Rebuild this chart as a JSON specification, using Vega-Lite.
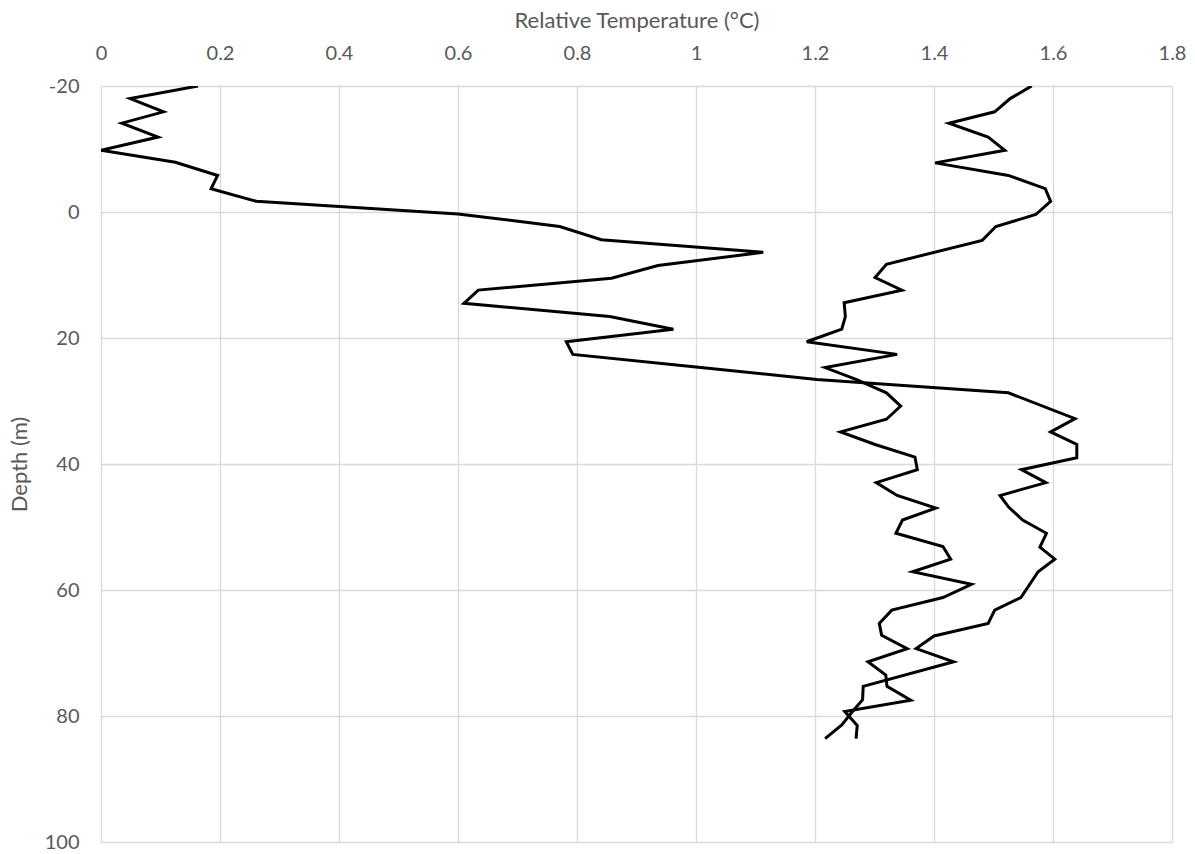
{
  "$schema": "https://vega.github.io/schema/vega-lite/v6.json",
  "width": 1071,
  "height": 756,
  "autosize": {"type": "none"},
  "padding": {"left": 101, "top": 86, "right": 23, "bottom": 12},
  "background": "white",
  "config": {
    "view": {"stroke": null},
    "font": "Lato",
    "axis": {
      "labelFont": "Lato",
      "titleFont": "Lato",
      "labelColor": "#595959",
      "titleColor": "#595959",
      "labelFontSize": 20,
      "titleFontSize": 22,
      "titleFontWeight": "normal",
      "gridColor": "#d9d9d9",
      "gridWidth": 1.3,
      "domain": false,
      "ticks": false,
      "tickSize": 0
    }
  },
  "data": {
    "values": [
      {"series": "A", "depth": -20, "temp": 0.163},
      {"series": "A", "depth": -18, "temp": 0.049},
      {"series": "A", "depth": -15.9, "temp": 0.105},
      {"series": "A", "depth": -14.1, "temp": 0.035},
      {"series": "A", "depth": -11.9, "temp": 0.096},
      {"series": "A", "depth": -9.8, "temp": 0.0},
      {"series": "A", "depth": -7.9, "temp": 0.125},
      {"series": "A", "depth": -5.8, "temp": 0.196},
      {"series": "A", "depth": -3.7, "temp": 0.185},
      {"series": "A", "depth": -1.7, "temp": 0.261},
      {"series": "A", "depth": 0.3, "temp": 0.6},
      {"series": "A", "depth": 2.3, "temp": 0.771},
      {"series": "A", "depth": 4.4, "temp": 0.841},
      {"series": "A", "depth": 6.4, "temp": 1.113},
      {"series": "A", "depth": 8.5, "temp": 0.936},
      {"series": "A", "depth": 10.5, "temp": 0.858},
      {"series": "A", "depth": 12.4, "temp": 0.634},
      {"series": "A", "depth": 14.5, "temp": 0.61},
      {"series": "A", "depth": 16.6, "temp": 0.855},
      {"series": "A", "depth": 18.6, "temp": 0.962},
      {"series": "A", "depth": 20.6, "temp": 0.782},
      {"series": "A", "depth": 22.6, "temp": 0.793},
      {"series": "A", "depth": 24.6, "temp": 1.0},
      {"series": "A", "depth": 26.6, "temp": 1.203},
      {"series": "A", "depth": 28.7, "temp": 1.525},
      {"series": "A", "depth": 32.8, "temp": 1.637},
      {"series": "A", "depth": 34.9, "temp": 1.596},
      {"series": "A", "depth": 36.9, "temp": 1.64},
      {"series": "A", "depth": 39.0, "temp": 1.64},
      {"series": "A", "depth": 40.9, "temp": 1.547},
      {"series": "A", "depth": 42.95, "temp": 1.588},
      {"series": "A", "depth": 45.0, "temp": 1.511},
      {"series": "A", "depth": 46.8, "temp": 1.525},
      {"series": "A", "depth": 48.9, "temp": 1.549},
      {"series": "A", "depth": 51.0, "temp": 1.589},
      {"series": "A", "depth": 53.2, "temp": 1.578},
      {"series": "A", "depth": 55.1, "temp": 1.603},
      {"series": "A", "depth": 57.1, "temp": 1.575},
      {"series": "A", "depth": 61.2, "temp": 1.546},
      {"series": "A", "depth": 63.2, "temp": 1.502},
      {"series": "A", "depth": 65.3, "temp": 1.491},
      {"series": "A", "depth": 67.3, "temp": 1.4},
      {"series": "A", "depth": 69.3, "temp": 1.37},
      {"series": "A", "depth": 71.4, "temp": 1.433},
      {"series": "A", "depth": 75.3, "temp": 1.281},
      {"series": "A", "depth": 77.4, "temp": 1.28},
      {"series": "A", "depth": 79.3, "temp": 1.263},
      {"series": "A", "depth": 81.4, "temp": 1.245},
      {"series": "A", "depth": 83.6, "temp": 1.217},
      {"series": "B", "depth": -20, "temp": 1.564},
      {"series": "B", "depth": -18, "temp": 1.528},
      {"series": "B", "depth": -15.9, "temp": 1.502},
      {"series": "B", "depth": -14.1, "temp": 1.425},
      {"series": "B", "depth": -11.9, "temp": 1.491},
      {"series": "B", "depth": -9.8, "temp": 1.519},
      {"series": "B", "depth": -7.8, "temp": 1.402},
      {"series": "B", "depth": -5.8, "temp": 1.525},
      {"series": "B", "depth": -3.7, "temp": 1.587},
      {"series": "B", "depth": -1.7, "temp": 1.596},
      {"series": "B", "depth": 0.4, "temp": 1.571},
      {"series": "B", "depth": 2.3, "temp": 1.504},
      {"series": "B", "depth": 4.5, "temp": 1.481},
      {"series": "B", "depth": 8.3, "temp": 1.32},
      {"series": "B", "depth": 10.4, "temp": 1.301},
      {"series": "B", "depth": 12.4, "temp": 1.346},
      {"series": "B", "depth": 14.4, "temp": 1.249},
      {"series": "B", "depth": 16.6, "temp": 1.251},
      {"series": "B", "depth": 18.6, "temp": 1.245},
      {"series": "B", "depth": 20.6, "temp": 1.186},
      {"series": "B", "depth": 22.6, "temp": 1.338},
      {"series": "B", "depth": 24.7, "temp": 1.217},
      {"series": "B", "depth": 26.6, "temp": 1.27},
      {"series": "B", "depth": 28.7, "temp": 1.32},
      {"series": "B", "depth": 30.8, "temp": 1.344},
      {"series": "B", "depth": 32.9, "temp": 1.32},
      {"series": "B", "depth": 34.9, "temp": 1.243},
      {"series": "B", "depth": 36.9, "temp": 1.301},
      {"series": "B", "depth": 38.9, "temp": 1.368},
      {"series": "B", "depth": 40.9, "temp": 1.372},
      {"series": "B", "depth": 42.95, "temp": 1.303},
      {"series": "B", "depth": 45.0, "temp": 1.338},
      {"series": "B", "depth": 47.0, "temp": 1.403},
      {"series": "B", "depth": 48.9, "temp": 1.347},
      {"series": "B", "depth": 51.0, "temp": 1.336},
      {"series": "B", "depth": 53.1, "temp": 1.415},
      {"series": "B", "depth": 55.1, "temp": 1.428},
      {"series": "B", "depth": 57.1, "temp": 1.364},
      {"series": "B", "depth": 59.1, "temp": 1.463},
      {"series": "B", "depth": 61.2, "temp": 1.415},
      {"series": "B", "depth": 63.2, "temp": 1.329},
      {"series": "B", "depth": 65.3, "temp": 1.308},
      {"series": "B", "depth": 67.2, "temp": 1.312},
      {"series": "B", "depth": 69.3, "temp": 1.355},
      {"series": "B", "depth": 71.4, "temp": 1.289},
      {"series": "B", "depth": 73.5, "temp": 1.319},
      {"series": "B", "depth": 75.3, "temp": 1.321},
      {"series": "B", "depth": 77.5, "temp": 1.361},
      {"series": "B", "depth": 79.3, "temp": 1.25},
      {"series": "B", "depth": 81.5, "temp": 1.271},
      {"series": "B", "depth": 83.6, "temp": 1.269}
    ]
  },
  "mark": {"type": "line", "color": "black", "strokeWidth": 3, "strokeJoin": "miter", "clip": true},
  "encoding": {
    "x": {
      "field": "temp",
      "type": "quantitative",
      "scale": {"domain": [0, 1.8], "nice": false, "zero": false},
      "axis": {
        "orient": "top",
        "title": "Relative Temperature (°C)",
        "values": [0, 0.2, 0.4, 0.6, 0.8, 1, 1.2, 1.4, 1.6, 1.8],
        "labelExpr": "'' + round(datum.value * 10) / 10",
        "labelPadding": 23,
        "titlePadding": 11,
        "labelFlush": false
      }
    },
    "y": {
      "field": "depth",
      "type": "quantitative",
      "scale": {"domain": [-20, 100], "reverse": true, "nice": false, "zero": false},
      "axis": {
        "title": "Depth (m)",
        "values": [-20, 0, 20, 40, 60, 80, 100],
        "labelExpr": "'' + datum.value",
        "labelPadding": 22,
        "titlePadding": 13,
        "labelFlush": false
      }
    },
    "detail": {"field": "series"},
    "order": {"field": "depth", "type": "quantitative"}
  }
}
